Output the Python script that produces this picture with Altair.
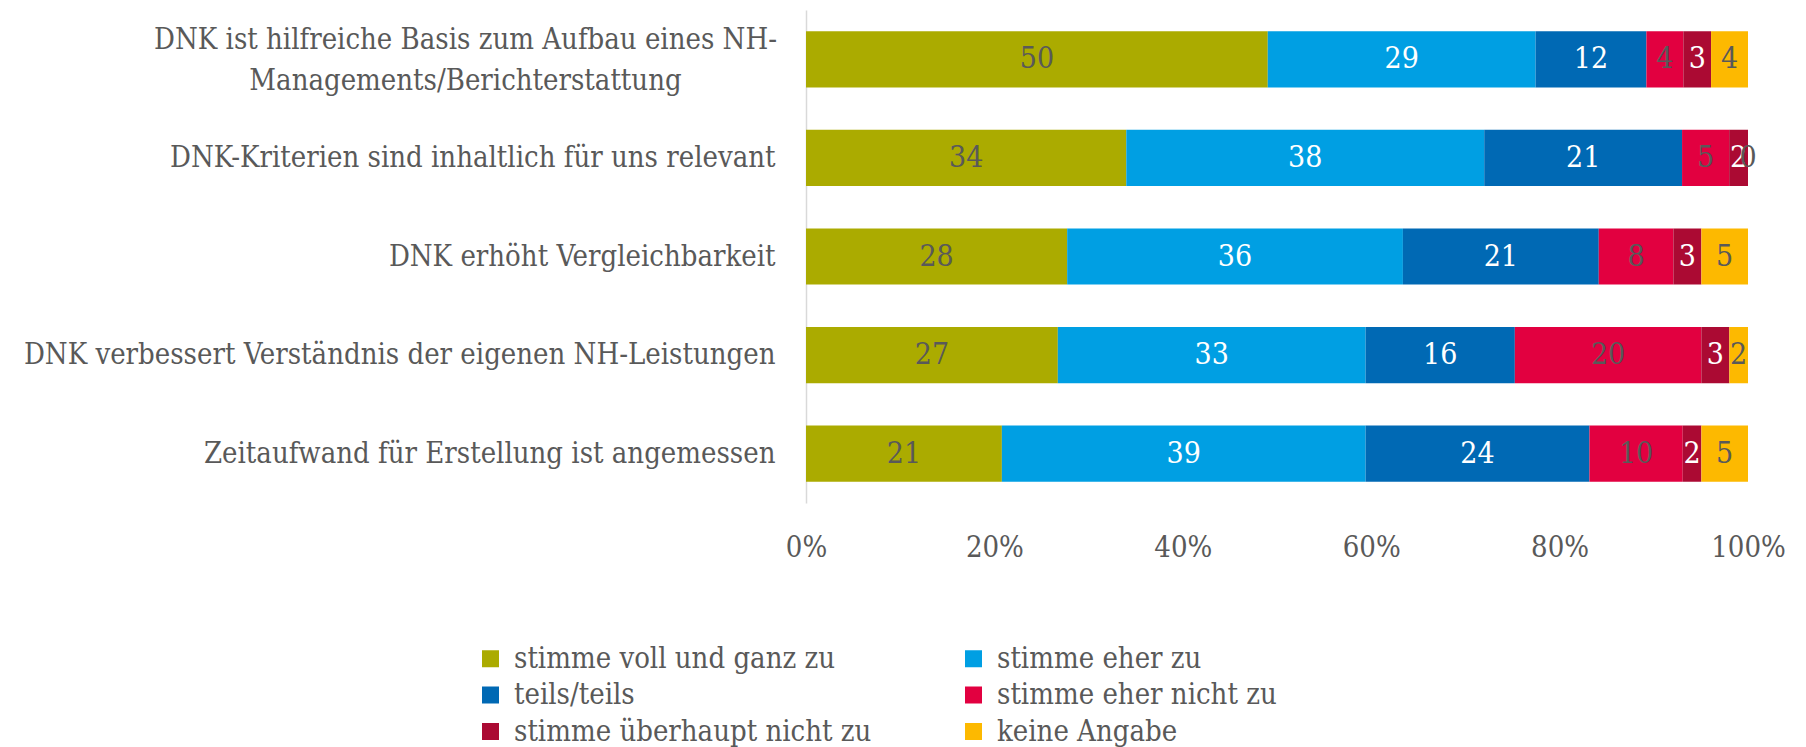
import altair as alt
import pandas as pd

items = [
    "DNK ist hilfreiche Basis zum Aufbau eines NH-Managements/Berichterstattung",
    "DNK-Kriterien sind inhaltlich für uns relevant",
    "DNK erhöht Vergleichbarkeit",
    "DNK verbessert Verständnis der eigenen NH-Leistungen",
    "Zeitaufwand für Erstellung ist angemessen",
]
categories = [
    "stimme voll und ganz zu",
    "stimme eher zu",
    "teils/teils",
    "stimme eher nicht zu",
    "stimme überhaupt nicht zu",
    "keine Angabe",
]
voll = [50, 34, 28, 27, 21]
eher = [29, 38, 36, 33, 39]
teils = [12, 21, 21, 16, 24]
eher_nicht = [4, 5, 8, 20, 10]
ueberhaupt = [3, 2, 3, 3, 2]
keine = [4, 0, 5, 2, 5]
series = [voll, eher, teils, eher_nicht, ueberhaupt, keine]

colors = ["#ABAB00", "#009FE3", "#0069B4", "#E20040", "#AB0A33", "#FDB900"]
label_colors = ["#595959", "#FFFFFF", "#FFFFFF", "#595959", "#FFFFFF", "#595959"]

rows = []
for ci, (cat, vals) in enumerate(zip(categories, series)):
    for ii, (it, v) in enumerate(zip(items, vals)):
        rows.append({"item": it, "cat": cat, "order": ci, "value": v,
                     "lc": label_colors[ci]})
df = pd.DataFrame(rows)

FONT = "DejaVu Serif Condensed, DejaVu Serif"
FS = 29
GREY = "#595959"

first_test = "datum.value == '" + items[0] + "'"
two_line = (first_test + " ? "
            "['DNK ist hilfreiche Basis zum Aufbau eines NH-', 'Managements/Berichterstattung'] : datum.label")

base = alt.Chart(df).transform_stack(
    stack="value", groupby=["item"], as_=["x0", "x1"], offset="normalize",
    sort=[alt.SortField("order", order="ascending")],
).transform_calculate(mid="(datum.x0 + datum.x1) / 2")

yenc = alt.Y(
    "item:N", sort=items, title=None,
    scale=alt.Scale(paddingInner=0.43, paddingOuter=0.215),
    axis=alt.Axis(
        labelFont=FONT, labelFontSize=FS, labelColor=GREY, labelLimit=0,
        labelPadding={"condition": {"test": first_test, "value": 341}, "value": 31},
        labelAlign={"condition": {"test": first_test, "value": "center"}, "value": "right"},
        labelOffset={"condition": {"test": first_test, "value": -19}, "value": 0},
        labelLineHeight=41, labelExpr=two_line,
        ticks=False, domainColor="#D9D9D9", domainWidth=1.5,
    ),
)

bars = base.mark_bar().encode(
    x=alt.X("x0:Q", scale=alt.Scale(domain=[0, 1]), title=None,
            axis=alt.Axis(values=[0, 0.2, 0.4, 0.6, 0.8, 1.0], format=".0%",
                          labelFont=FONT, labelFontSize=FS, labelColor=GREY,
                          labelFlush=False, labelPadding=30, domain=False,
                          ticks=False, grid=False)),
    x2="x1:Q",
    y=yenc,
    color=alt.Color("cat:N", scale=alt.Scale(domain=categories, range=colors),
                    sort=categories, title=None,
                    legend=alt.Legend(orient="none", legendX=-330, legendY=634,
                                      direction="horizontal", columns=2,
                                      columnPadding=87, rowPadding=6.5,
                                      symbolType="square", symbolSize=289,
                                      symbolStrokeWidth=0, labelOffset=9,
                                      labelFont=FONT, labelFontSize=FS,
                                      labelColor=GREY, labelLimit=0, padding=0)),
    order=alt.Order("order:Q"),
)

texts = base.mark_text(font=FONT, fontSize=30, baseline="middle", align="center").encode(
    x=alt.X("mid:Q"),
    y=alt.Y("item:N", sort=items),
    text=alt.Text("value:Q"),
    color=alt.Color("lc:N", scale=None),
)

chart = alt.layer(bars, texts).properties(
    width=942, height=493,
    autosize=alt.AutoSizeParams(type="none"),
    padding={"left": 798, "top": 2, "right": 50, "bottom": 244},
).configure_view(stroke=None)

chart.save("out.html", embed_options={"renderer": "svg", "actions": False})
